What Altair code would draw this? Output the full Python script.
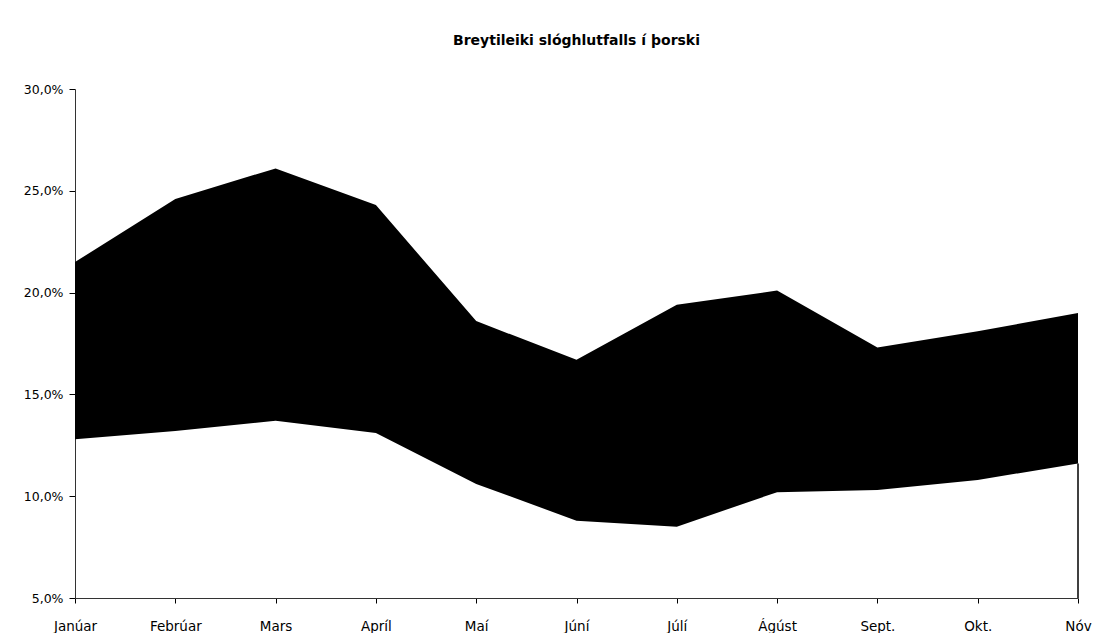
import altair as alt
import pandas as pd

# Monthly range of the offal ratio in cod (percent)
months = ["Janúar", "Febrúar", "Mars", "Apríl", "Maí", "Júní",
          "Júlí", "Ágúst", "Sept.", "Okt.", "Nóv"]
upper = [21.5, 24.6, 26.1, 24.3, 18.6, 16.7, 19.4, 20.1, 17.3, 18.1, 19.0]
lower = [12.8, 13.2, 13.7, 13.1, 10.6, 8.8, 8.5, 10.2, 10.3, 10.8, 11.6]
y_ticks = [5, 10, 15, 20, 25, 30]

df = pd.DataFrame({"month": months, "upper": upper, "lower": lower})
df["base"] = y_ticks[0]

FONT = "DejaVu Sans"

x_scale = alt.Scale(type="point", padding=0)

x_enc = alt.X(
    "month:N",
    sort=months,
    scale=x_scale,
    axis=alt.Axis(
        title=None, labelAngle=0, labelFontSize=13.5, labelFont=FONT,
        labelColor="black", labelPadding=16, tickColor="black", tickSize=5,
        domainColor="#333", grid=False,
    ),
)

band = alt.Chart(df).mark_area(color="black", opacity=1).encode(
    x=x_enc,
    y=alt.Y(
        "upper:Q",
        scale=alt.Scale(domain=[5, 30], nice=False, zero=False),
        axis=alt.Axis(
            title=None, values=y_ticks, grid=False, labelFontSize=12.5,
            labelFont=FONT, labelColor="black", labelPadding=6,
            tickColor="black", tickSize=6, domainColor="#333",
            labelExpr="replace(format(datum.value, '.1f'), '.', ',') + '%'",
        ),
    ),
    y2="lower:Q",
)

# right-hand edge of the lower series down to the axis
edge = alt.Chart(df[df["month"] == months[-1]]).mark_rule(
    color="black", strokeWidth=1.5
).encode(x=alt.X("month:N", sort=months, scale=x_scale), y="base:Q", y2="lower:Q")

chart = (
    alt.layer(band, edge)
    .properties(
        width=1003,
        height=509,
        background="white",
        title=alt.TitleParams(
            "Breytileiki slóghlutfalls í þorski",
            fontSize=14, font=FONT, fontWeight="bold", color="black",
            anchor="middle", offset=35,
        ),
        autosize=alt.AutoSizeParams(type="none"),
        padding={"left": 75, "top": 89, "right": 26, "bottom": 35},
    )
    .configure_view(stroke="transparent", strokeWidth=0)
)

chart.save("out.html", embed_options={"renderer": "svg", "actions": False})
